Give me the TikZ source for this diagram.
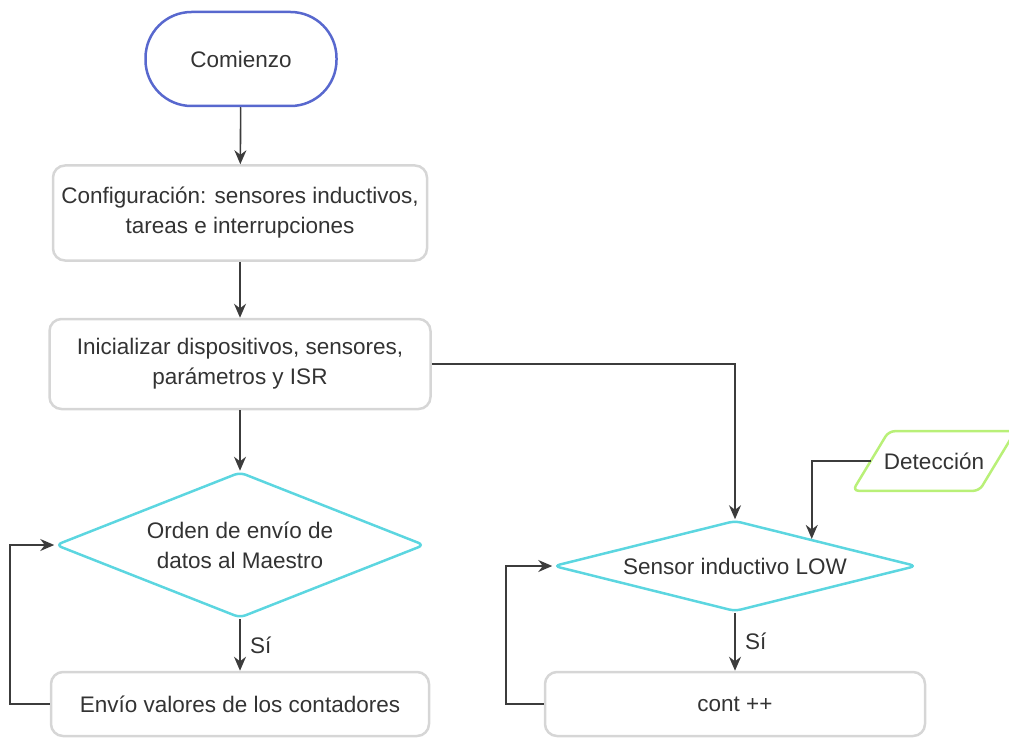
\documentclass[tikz,border=0pt]{standalone}
\usepackage{fontspec}
\setmainfont{Liberation Sans}
\usetikzlibrary{arrows.meta,shapes.geometric,positioning,calc}
\definecolor{txtc}{RGB}{51,51,51}
\definecolor{linec}{RGB}{60,60,60}
\definecolor{termc}{RGB}{88,104,206}
\definecolor{procc}{RGB}{214,214,214}
\definecolor{decc}{RGB}{92,214,224}
\definecolor{ioc}{RGB}{185,240,120}

\begin{document}
\begin{tikzpicture}[x=1pt, y=-1pt,
           > = {Stealth[length=14pt,width=12pt]},
  line width = 1.6pt, draw=linec,
        font = \fontsize{22.5}{30}\selectfont,
        text = txtc,
  term/.style = {draw=termc, line width=2.5pt, rounded corners=46pt,
                 minimum width=191pt, minimum height=94pt},% start
  proc/.style = {draw=procc, line width=2.5pt, rounded corners=12pt,
                 align=center},% process boxes
   dec/.style = {diamond, draw=decc, line width=2.5pt, rounded corners=6pt,
                 inner sep=0pt, align=center},% decisions
    io/.style = {minimum width=125pt, minimum height=58pt},% input, outline drawn below
  lbl/.style = {right=6pt}% for yes labels
]
\useasboundingbox (0,0) rectangle (1009,738);
% main column
\node[term] (start) at (241,59) {Comienzo};
\node[proc, minimum width=374pt, minimum height=95pt] (conf) at (240,213)
     {Configuración: sensores inductivos,\\tareas e interrupciones};
\node[proc, minimum width=381pt, minimum height=90pt] (init) at (240,364)
     {Inicializar dispositivos, sensores,\\parámetros y ISR};
\node[dec, aspect=2.5, minimum width=369pt, minimum height=146pt] (orden) at (240,545)
     {Orden de envío de\\datos al Maestro};
\node[proc, minimum width=378pt, minimum height=64pt] (envio) at (240,704)
     {Envío valores de los contadores};
% right column
\node[dec, aspect=4, minimum width=363pt, minimum height=91pt] (sensor) at (735,566)
     {Sensor inductivo LOW};
\node[proc, minimum width=380pt, minimum height=64pt] (cont) at (735,704) {cont ++};
\node[io] (det) at (934,461) {Detección};
\draw[ioc, line width=2.5pt, rounded corners=6pt]
     ($(det.south west)+(-18,0)$) -- ($(det.north west)+(18,0)$) --
     ($(det.north east)+(18,0)$) -- ($(det.south east)+(-18,0)$) -- cycle;
% connections
\draw[->] (start) -- (conf);
\draw[->] (conf) -- (init);
\draw[->] (init) -- (orden);
\draw[->] (init.east) -| (sensor.north);
\draw[->] (det.west) -| ($(sensor.north)!0.42!(sensor.east)$);
\draw[->] (orden.south) -- node[lbl] {Sí} (envio.north);
\draw[->] (sensor.south) -- node[lbl] {Sí} (cont.north);
% loops back
\draw[->] (envio.west) -- ++(-40,0) |- (orden.west);
\draw[->] (cont.west) -- ++(-38,0) |- (sensor.west);
\end{tikzpicture}
\end{document}
